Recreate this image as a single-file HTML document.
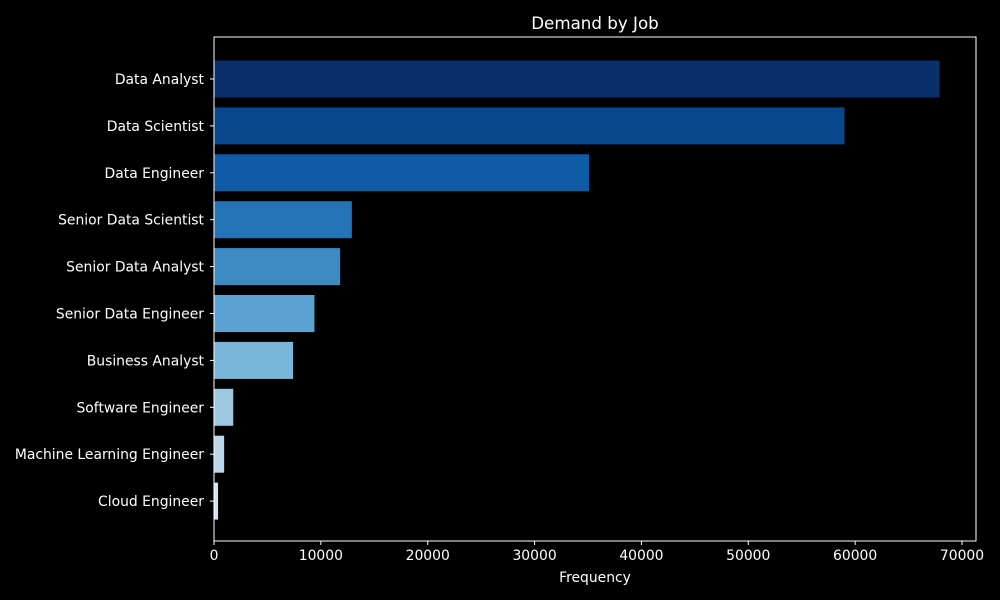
<!DOCTYPE html>
<html><head><meta charset="utf-8"><style>
body{margin:0;background:#000;}
svg{display:block;font-family:"DejaVu Sans","Liberation Sans",sans-serif;}
</style></head><body>
<svg id="chart" width="1000" height="600">
<rect width="1000" height="600" fill="#000"/>
<text x="595" y="29" fill="#fff" font-size="16.7" text-anchor="middle">Demand by Job</text>
<g id="bars"></g><g id="yt"></g><g id="xt"></g>
<rect x="214" y="37" width="762" height="504" fill="none" stroke="#fff" stroke-width="1"/>
<text x="595" y="582" fill="#fff" font-size="13.9" text-anchor="middle">Frequency</text>
</svg>
<script>
const categories=["Data Analyst","Data Scientist","Data Engineer","Senior Data Scientist","Senior Data Analyst","Senior Data Engineer","Business Analyst","Software Engineer","Machine Learning Engineer","Cloud Engineer"];
const values=[67900,59000,35100,12900,11800,9400,7400,1800,950,380];
const colors=["#08306b","#08468b","#0f5ba6","#2474b7","#3c8cc3","#5aa2cf","#7ab6d9","#9ecae1","#bad6eb","#d4e4f4"];
const xTicks=[0,10000,20000,30000,40000,50000,60000,70000];
const NS="http://www.w3.org/2000/svg";
const x0=214,pxPer=(962-214)/70000;
const xs=v=>x0+v*pxPer;
const yc=i=>79+i*46.9;
const bh=37;
const bars=document.getElementById('bars'),yt=document.getElementById('yt'),xt=document.getElementById('xt');
function mk(t,a){const e=document.createElementNS(NS,t);for(const k in a)e.setAttribute(k,a[k]);return e;}
categories.forEach((c,i)=>{
 const r=mk('rect',{x:x0,y:yc(i)-bh/2,width:xs(values[i])-x0,height:bh,fill:colors[i]});
 
 
 bars.appendChild(r);
 const tk=mk('line',{x1:x0-4,x2:x0,y1:yc(i),y2:yc(i),stroke:'#fff'});
 
 
 yt.appendChild(tk);
 const t=mk('text',{x:x0-10,y:yc(i)+5,fill:'#fff','font-size':13.9,'text-anchor':'end'});
 t.textContent=c;
 
 
 yt.appendChild(t);
});
xTicks.forEach(v=>{
 const tk=mk('line',{x1:xs(v),x2:xs(v),y1:541,y2:545,stroke:'#fff'});
 
 
 xt.appendChild(tk);
 const t=mk('text',{x:xs(v),y:560,fill:'#fff','font-size':13.9,'text-anchor':'middle'});
 t.textContent=v;
 
 
 xt.appendChild(t);
});
</script>
</body></html>
